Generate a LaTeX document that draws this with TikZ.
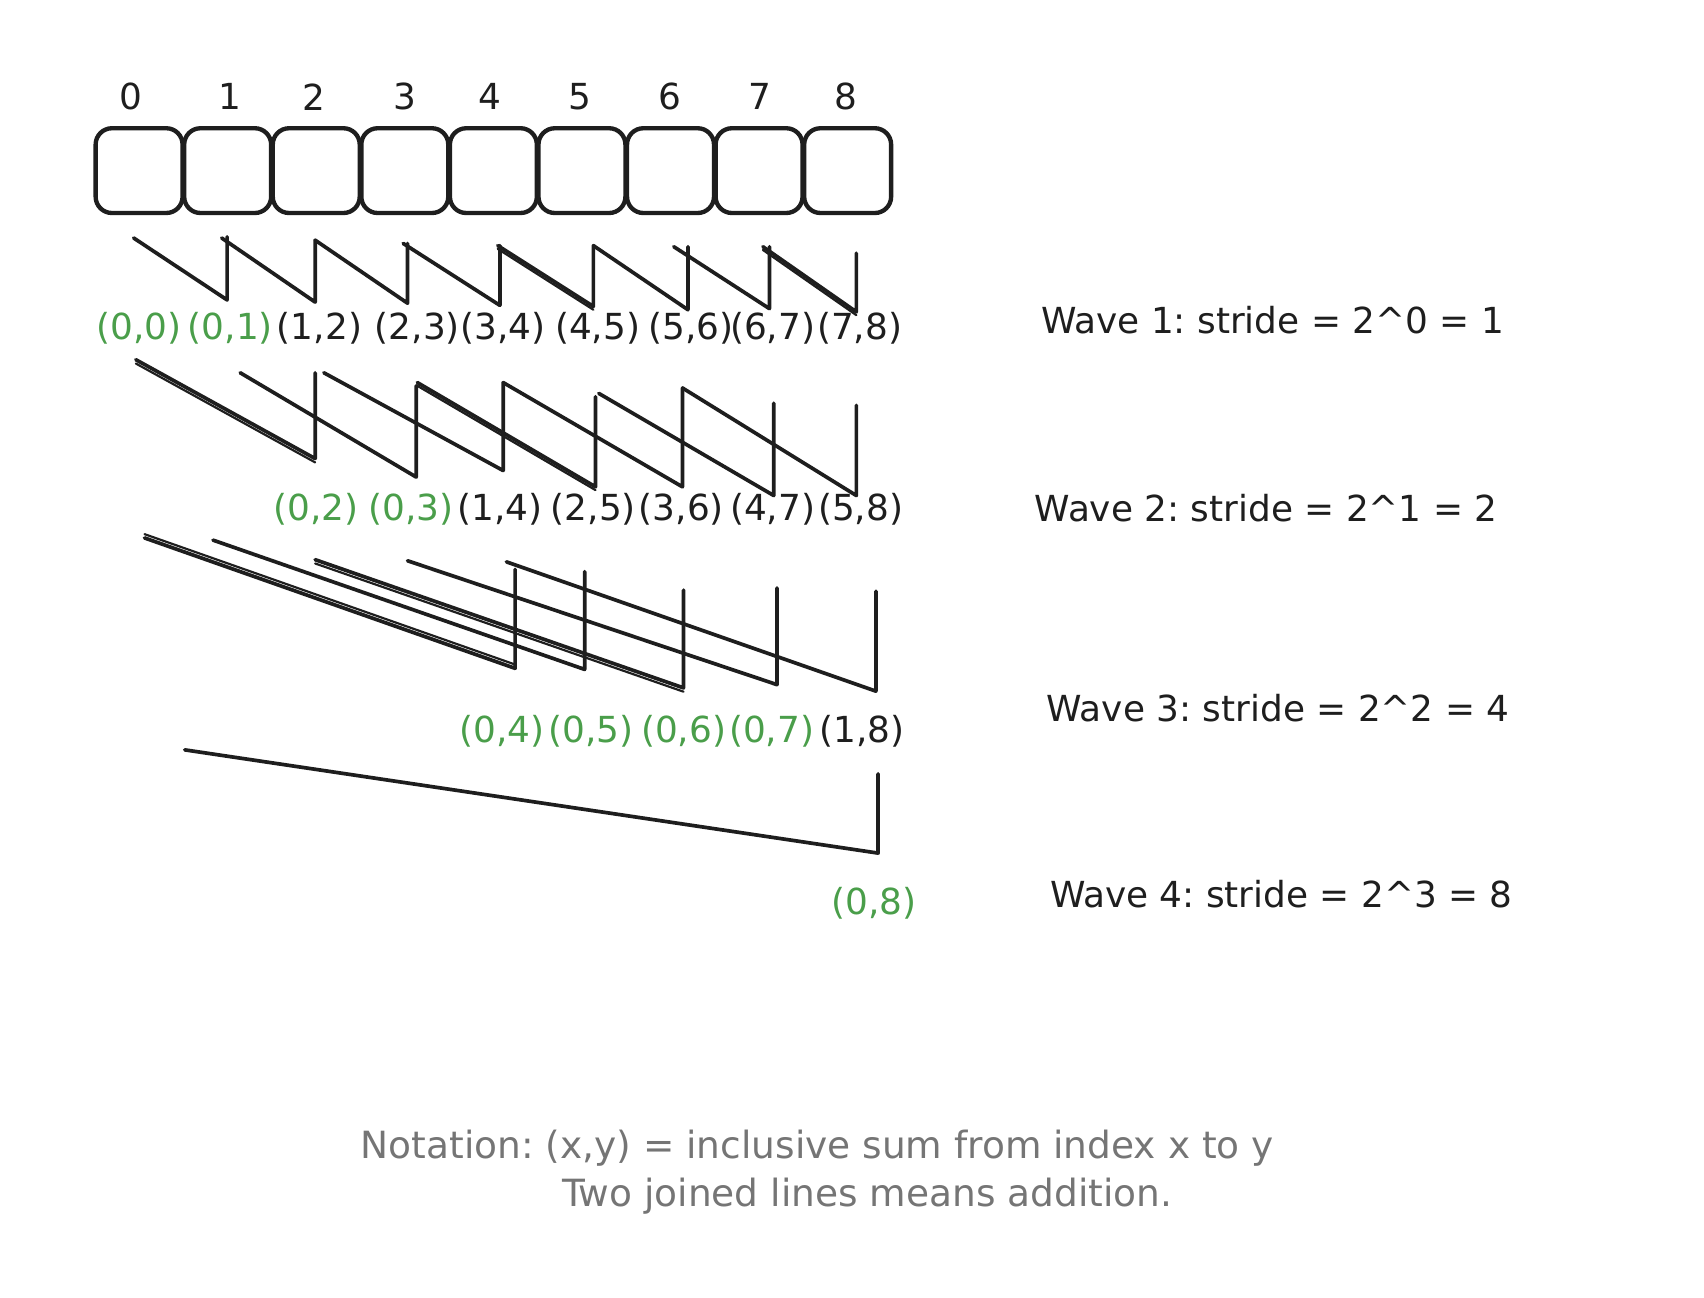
\documentclass[tikz,border=0pt]{standalone}
\usepackage{fontspec}
\setmainfont{DejaVu Sans}
\definecolor{ink}{HTML}{1E1E1E}
\definecolor{grn}{HTML}{4A9E4A}
\definecolor{gry}{HTML}{757575}
\frenchspacing
\begin{document}
\begin{tikzpicture}[x=1pt,y=-1pt,
  cell/.style={draw=ink, line width=4pt, rounded corners=15pt, minimum width=80pt, minimum height=78pt, inner sep=0pt},
  idx/.style={text=ink, font=\fontsize{33}{40}\selectfont, inner sep=0pt},
  res/.style={text=ink, font=\fontsize{33}{40}\selectfont, inner sep=0pt},
  okres/.style={res, text=grn},
  wavelbl/.style={anchor=base west, text=ink, font=\fontsize{33}{40}\selectfont, inner sep=0pt},
  note/.style={anchor=base, text=gry, font=\fontsize{34.5}{40}\selectfont, inner sep=0pt},
  wire/.style={draw=ink, line width=3.4pt, line cap=round, line join=round},
  extra/.style={draw=ink, line width=2pt, line cap=round},
]
\useasboundingbox (0,0) rectangle (1568,1194);

% array cells
\foreach \i in {0,...,8}
  \node[cell] (b\i) at ({128+81.5*\i},157) {};

% index labels
\foreach \i/\x in {0/120,1/212,2/289,3/373,4/451,5/534,6/616,7/699,8/778}
  \node[idx] (ix\i) at (\x,89) {\i};

% wave 1 wires
\foreach \i/\sx/\sy/\x/\t/\b in {1/123/219/209/218/276, 2/204/219/290/221/278,
   3/290/221/375/224/279, 4/371/224/460/226/281, 5/458/226/546/226/282,
   6/546/226/633/227/285, 7/620/227/708/227/284, 8/702/227/788/233/287} {
  \coordinate (aS\i) at (\sx,\sy);
  \coordinate (aT\i) at (\x,\t);
  \coordinate (aB\i) at (\x,\b);
  \draw[wire] (aS\i) -- (aB\i) -- (aT\i);
}
\draw[extra] ([yshift=-3pt]aS5) -- ([yshift=-3pt]aB5);
\draw[extra] ([yshift=-3pt]aS8) -- ([yshift=-3pt]aB8);

% wave 1 results
\node[okres] (r1a) at (128,302) {(0,0)};
\node[okres] (r1b) at (212,302) {(0,1)};
\foreach \n/\x/\t in {c/294/{(1,2)}, d/384/{(2,3)}, e/463/{(3,4)}, f/550/{(4,5)},
   g/636/{(5,6)}, h/711/{(6,7)}, k/791/{(7,8)}}
  \node[res] (r1\n) at (\x,302) {\t};

% wave 2 wires
\foreach \i/\sx/\sy/\x/\t/\b in {2/125/331/290/343/422, 3/221/343/383/355/439,
   4/298/343/463/352/433, 5/384/352/548/365/448, 6/463/352/628/357/448,
   7/551/362/712/371/456, 8/628/357/788/373/456} {
  \coordinate (bS\i) at (\sx,\sy);
  \coordinate (bT\i) at (\x,\t);
  \coordinate (bB\i) at (\x,\b);
  \draw[wire] (bS\i) -- (bB\i) -- (bT\i);
}
\draw[extra] ([yshift=-3.5pt]bS2) -- ([yshift=-3.5pt]bB2);
\draw[extra] ([yshift=-3pt]bS5) -- ([yshift=-3pt]bB5);

% wave 2 results
\node[okres] (r2a) at (291,469) {(0,2)};
\node[okres] (r2b) at (378,469) {(0,3)};
\foreach \n/\x/\t in {c/460/{(1,4)}, d/546/{(2,5)}, e/627/{(3,6)}, f/711/{(4,7)}, g/792/{(5,8)}}
  \node[res] (r2\n) at (\x,469) {\t};

% wave 3 wires
\foreach \i/\sx/\sy/\x/\t/\b in {4/133/495/474/524/615, 5/196/497/538/526/616,
   6/290/515/629/543/633, 7/375/516/715/541/630, 8/466/517/806/544/636} {
  \coordinate (cS\i) at (\sx,\sy);
  \coordinate (cT\i) at (\x,\t);
  \coordinate (cB\i) at (\x,\b);
  \draw[wire] (cS\i) -- (cB\i) -- (cT\i);
}
\draw[extra] ([yshift=3.5pt]cS4) -- ([yshift=3.5pt]cB4);
\draw[extra] ([yshift=-3.5pt]cS6) -- ([yshift=-3.5pt]cB6);

% wave 3 results
\foreach \n/\x/\t in {a/462/{(0,4)}, b/544/{(0,5)}, c/629/{(0,6)}, d/710/{(0,7)}}
  \node[okres] (r3\n) at (\x,673) {\t};
\node[res] (r3e) at (793,673) {(1,8)};

% wave 4 wire
\coordinate (dS8) at (170,690);
\coordinate (dT8) at (808,712);
\coordinate (dB8) at (808,785);
\draw[wire] (dS8) -- (dB8) -- (dT8);
\node[okres] (r4a) at (804,831) {(0,8)};

% wave captions
\node[wavelbl] (wv1) at (958,307) {Wave 1: stride = 2\textasciicircum0 = 1};
\node[wavelbl] (wv2) at (952,480) {Wave 2: stride = 2\textasciicircum1 = 2};
\node[wavelbl] (wv3) at (963,664) {Wave 3: stride = 2\textasciicircum2 = 4};
\node[wavelbl] (wv4) at (966,835) {Wave 4: stride = 2\textasciicircum3 = 8};

% notes
\node[note] (n1) at (752,1066) {Notation: (x,y) = inclusive sum from index x to y};
\node[note] (n2) at (798,1110) {Two joined lines means addition.};
\end{tikzpicture}
\end{document}
